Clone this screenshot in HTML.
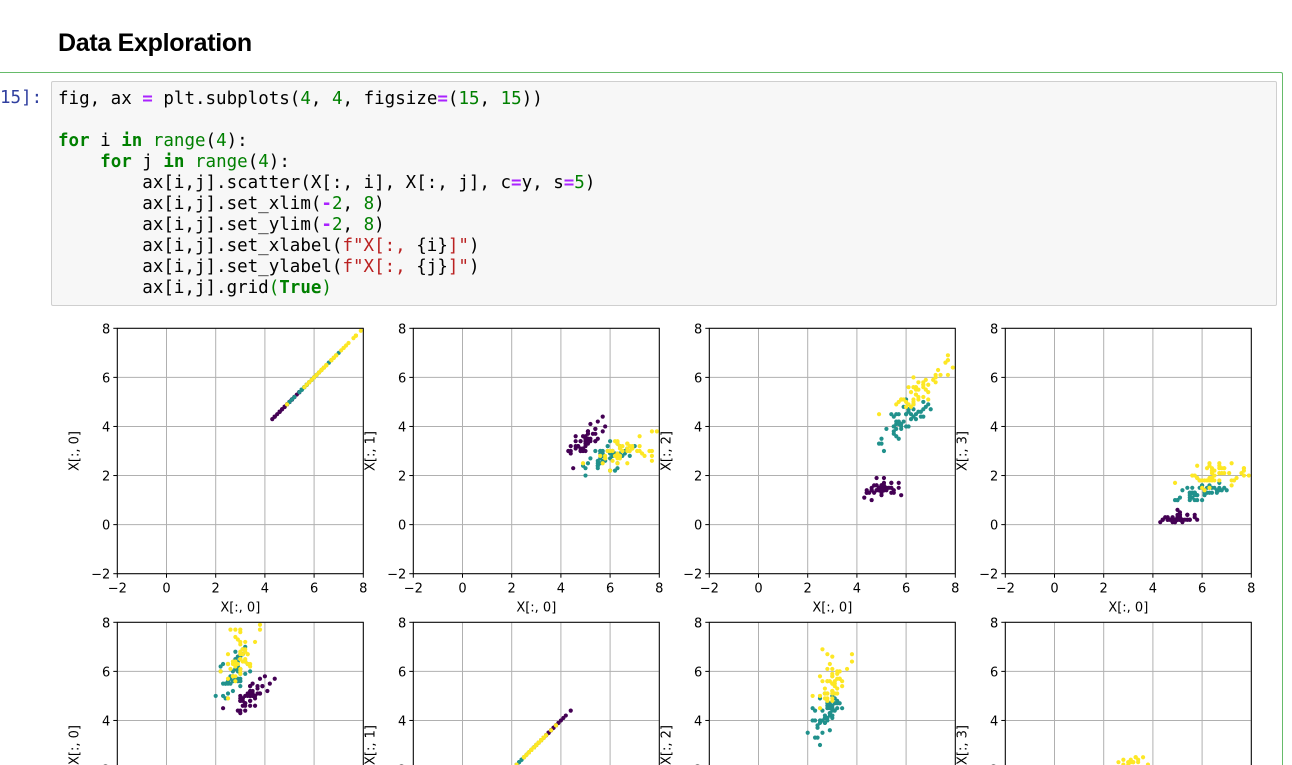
<!DOCTYPE html>
<html><head><meta charset="utf-8">
<style>
html,body{margin:0;width:1292px;height:765px;overflow:hidden;background:#fff;font-family:"Liberation Sans",sans-serif}
body{position:relative}
#title{position:absolute;left:58px;top:29px;font-size:25px;font-weight:bold;color:#000;margin:0;letter-spacing:-0.3px}
#cell{position:absolute;left:-2px;top:72px;width:1283px;height:700px;border:1px solid #66bb6a;border-bottom:none;border-radius:2px}
#prompt{position:absolute;left:0;top:88px;font-family:"DejaVu Sans Mono","Liberation Mono",monospace;font-size:17.5px;color:#303f9f}
#code{position:absolute;left:51px;top:81px;width:1224px;height:223px;background:#f7f7f7;border:1px solid #cfcfcf;border-radius:2px}
#code pre{margin:0;position:absolute;left:6px;top:7px;font-family:"DejaVu Sans Mono","Liberation Mono",monospace;font-size:17.5px;line-height:21px;color:#000}
.k{color:#008000;font-weight:bold}.n{color:#008000}.o{color:#aa22ff;font-weight:bold}.s{color:#ba2121}
svg{position:absolute;left:0;top:0}
</style></head><body>
<h2 id="title">Data Exploration</h2>
<div id="cell"></div>
<div id="prompt">15]:</div>
<div id="code"><pre>fig, ax <span class="o">=</span> plt.subplots(<span class="n">4</span>, <span class="n">4</span>, figsize<span class="o">=</span>(<span class="n">15</span>, <span class="n">15</span>))

<span class="k">for</span> i <span class="k">in</span> <span class="n">range</span>(<span class="n">4</span>):
    <span class="k">for</span> j <span class="k">in</span> <span class="n">range</span>(<span class="n">4</span>):
        ax[i,j].scatter(X[:, i], X[:, j], c<span class="o">=</span>y, s<span class="o">=</span><span class="n">5</span>)
        ax[i,j].set_xlim(<span class="o">-</span><span class="n">2</span>, <span class="n">8</span>)
        ax[i,j].set_ylim(<span class="o">-</span><span class="n">2</span>, <span class="n">8</span>)
        ax[i,j].set_xlabel(<span class="s">f"X[:, </span>{i}<span class="s">]"</span>)
        ax[i,j].set_ylabel(<span class="s">f"X[:, </span>{j}<span class="s">]"</span>)
        ax[i,j].grid<span class="n">(</span><span class="k">True</span><span class="n">)</span></pre></div>
<svg id="fig" width="1292" height="765"></svg>
<script>
const setosa=[[5.1,3.5,1.4,0.2],[4.9,3.0,1.4,0.2],[4.7,3.2,1.3,0.2],[4.6,3.1,1.5,0.2],[5.0,3.6,1.4,0.2],[5.4,3.9,1.7,0.4],[4.6,3.4,1.4,0.3],[5.0,3.4,1.5,0.2],[4.4,2.9,1.4,0.2],[4.9,3.1,1.5,0.1],[5.4,3.7,1.5,0.2],[4.8,3.4,1.6,0.2],[4.8,3.0,1.4,0.1],[4.3,3.0,1.1,0.1],[5.8,4.0,1.2,0.2],[5.7,4.4,1.5,0.4],[5.4,3.9,1.3,0.4],[5.1,3.5,1.4,0.3],[5.7,3.8,1.7,0.3],[5.1,3.8,1.5,0.3],[5.4,3.4,1.7,0.2],[5.1,3.7,1.5,0.4],[4.6,3.6,1.0,0.2],[5.1,3.3,1.7,0.5],[4.8,3.4,1.9,0.2],[5.0,3.0,1.6,0.2],[5.0,3.4,1.6,0.4],[5.2,3.5,1.5,0.2],[5.2,3.4,1.4,0.2],[4.7,3.2,1.6,0.2],[4.8,3.1,1.6,0.2],[5.4,3.4,1.5,0.4],[5.2,4.1,1.5,0.1],[5.5,4.2,1.4,0.2],[4.9,3.1,1.5,0.2],[5.0,3.2,1.2,0.2],[5.5,3.5,1.3,0.2],[4.9,3.6,1.4,0.1],[4.4,3.0,1.3,0.2],[5.1,3.4,1.5,0.2],[5.0,3.5,1.3,0.3],[4.5,2.3,1.3,0.3],[4.4,3.2,1.3,0.2],[5.0,3.5,1.6,0.6],[5.1,3.8,1.9,0.4],[4.8,3.0,1.4,0.3],[5.1,3.8,1.6,0.2],[4.6,3.2,1.4,0.2],[5.3,3.7,1.5,0.2],[5.0,3.3,1.4,0.2]];
const versicolor=[[7.0,3.2,4.7,1.4],[6.4,3.2,4.5,1.5],[6.9,3.1,4.9,1.5],[5.5,2.3,4.0,1.3],[6.5,2.8,4.6,1.5],[5.7,2.8,4.5,1.3],[6.3,3.3,4.7,1.6],[4.9,2.4,3.3,1.0],[6.6,2.9,4.6,1.3],[5.2,2.7,3.9,1.4],[5.0,2.0,3.5,1.0],[5.9,3.0,4.2,1.5],[6.0,2.2,4.0,1.0],[6.1,2.9,4.7,1.4],[5.6,2.9,3.6,1.3],[6.7,3.1,4.4,1.4],[5.6,3.0,4.5,1.5],[5.8,2.7,4.1,1.0],[6.2,2.2,4.5,1.5],[5.6,2.5,3.9,1.1],[5.9,3.2,4.8,1.8],[6.1,2.8,4.0,1.3],[6.3,2.5,4.9,1.5],[6.1,2.8,4.7,1.2],[6.4,2.9,4.3,1.3],[6.6,3.0,4.4,1.4],[6.8,2.8,4.8,1.4],[6.7,3.0,5.0,1.7],[6.0,2.9,4.5,1.5],[5.7,2.6,3.5,1.0],[5.5,2.4,3.8,1.1],[5.5,2.4,3.7,1.0],[5.8,2.7,3.9,1.2],[6.0,2.7,5.1,1.6],[5.4,3.0,4.5,1.5],[6.0,3.4,4.5,1.6],[6.7,3.1,4.7,1.5],[6.3,2.3,4.4,1.3],[5.6,3.0,4.1,1.3],[5.5,2.5,4.0,1.3],[5.5,2.6,4.4,1.2],[6.1,3.0,4.6,1.4],[5.8,2.6,4.0,1.2],[5.0,2.3,3.3,1.0],[5.6,2.7,4.2,1.3],[5.7,3.0,4.2,1.2],[5.7,2.9,4.2,1.3],[6.2,2.9,4.3,1.3],[5.1,2.5,3.0,1.1],[5.7,2.8,4.1,1.3]];
const virginica=[[6.3,3.3,6.0,2.5],[5.8,2.7,5.1,1.9],[7.1,3.0,5.9,2.1],[6.3,2.9,5.6,1.8],[6.5,3.0,5.8,2.2],[7.6,3.0,6.6,2.1],[4.9,2.5,4.5,1.7],[7.3,2.9,6.3,1.8],[6.7,2.5,5.8,1.8],[7.2,3.6,6.1,2.5],[6.5,3.2,5.1,2.0],[6.4,2.7,5.3,1.9],[6.8,3.0,5.5,2.1],[5.7,2.5,5.0,2.0],[5.8,2.8,5.1,2.4],[6.4,3.2,5.3,2.3],[6.5,3.0,5.5,1.8],[7.7,3.8,6.7,2.2],[7.7,2.6,6.9,2.3],[6.0,2.2,5.0,1.5],[6.9,3.2,5.7,2.3],[5.6,2.8,4.9,2.0],[7.7,2.8,6.7,2.0],[6.3,2.7,4.9,1.8],[6.7,3.3,5.7,2.1],[7.2,3.2,6.0,1.8],[6.2,2.8,4.8,1.8],[6.1,3.0,4.9,1.8],[6.4,2.8,5.6,2.1],[7.2,3.0,5.8,1.6],[7.4,2.8,6.1,1.9],[7.9,3.8,6.4,2.0],[6.4,2.8,5.6,2.2],[6.3,2.8,5.1,1.5],[6.1,2.6,5.6,1.4],[7.7,3.0,6.1,2.3],[6.3,3.4,5.6,2.4],[6.4,3.1,5.5,1.8],[6.0,3.0,4.8,1.8],[6.9,3.1,5.4,2.1],[6.7,3.1,5.6,2.4],[6.9,3.1,5.1,2.3],[5.8,2.7,5.1,1.9],[6.8,3.2,5.9,2.3],[6.7,3.3,5.7,2.5],[6.7,3.0,5.2,2.3],[6.3,2.5,5.0,1.9],[6.5,3.0,5.2,2.0],[6.2,3.4,5.4,2.3],[5.9,3.0,5.1,1.8]];
const classColors=["#440154","#21918c","#fde725"];
const tickValues=[-2,0,2,4,6,8];
const tickLabels=["\u22122","0","2","4","6","8"];

const NS="http://www.w3.org/2000/svg";
const svg=document.getElementById('fig');
const AX0=117.3, AY0=328.3, AW=246, AH=245.4, DX=296, DY=294;
const lo=-2, hi=8;
function el(t,a,p){const e=document.createElementNS(NS,t);for(const k in a)e.setAttribute(k,a[k]);(p||svg).appendChild(e);return e;}
const groups=[setosa,versicolor,virginica];
for(let i=0;i<2;i++){for(let j=0;j<4;j++){
  const ox=AX0+j*DX, oy=AY0+i*DY;
  const sx=v=>ox+(v-lo)/(hi-lo)*AW;
  const sy=v=>oy+AH-(v-lo)/(hi-lo)*AH;
  const g=el('g',{});
  
  
  tickValues.forEach((t,k)=>{
    const gx=el('line',{x1:sx(t),x2:sx(t),y1:oy,y2:oy+AH,stroke:'#b0b0b0','stroke-width':1},g);
    
    
    const gy=el('line',{x1:ox,x2:ox+AW,y1:sy(t),y2:sy(t),stroke:'#b0b0b0','stroke-width':1},g);
    
    
    el('line',{x1:sx(t),x2:sx(t),y1:oy+AH,y2:oy+AH+4,stroke:'#000'},g);
    el('line',{x1:ox-4,x2:ox,y1:sy(t),y2:sy(t),stroke:'#000'},g);
    const xt=el('text',{x:sx(t),y:oy+AH+19,'text-anchor':'middle','font-size':13,'font-family':'DejaVu Sans, Liberation Sans, sans-serif',fill:'#000'},g);
    xt.textContent=tickLabels[k];
    
    
    const yt=el('text',{x:ox-7,y:sy(t)+5,'text-anchor':'end','font-size':13,'font-family':'DejaVu Sans, Liberation Sans, sans-serif',fill:'#000'},g);
    yt.textContent=tickLabels[k];
    
    
  });
  groups.forEach((grp,c)=>grp.forEach(r=>{
    const p=el('circle',{cx:sx(r[i]),cy:sy(r[j]),r:2.1,fill:classColors[c]},g);
    
    
  }));
  el('rect',{x:ox,y:oy,width:AW,height:AH,fill:'none',stroke:'#000','stroke-width':1},g);
  const xl=el('text',{x:ox+AW/2,y:oy+AH+38,'text-anchor':'middle','font-size':13,'font-family':'DejaVu Sans, Liberation Sans, sans-serif'},g);
  xl.textContent='X[:, '+i+']';
  
  
  const yx=ox-39, yy=oy+AH/2;
  const yl=el('text',{x:yx,y:yy,'text-anchor':'middle','font-size':13,'font-family':'DejaVu Sans, Liberation Sans, sans-serif',transform:'rotate(-90 '+yx+' '+yy+')'},g);
  yl.textContent='X[:, '+j+']';
  
  
}}
</script>
</body></html>
